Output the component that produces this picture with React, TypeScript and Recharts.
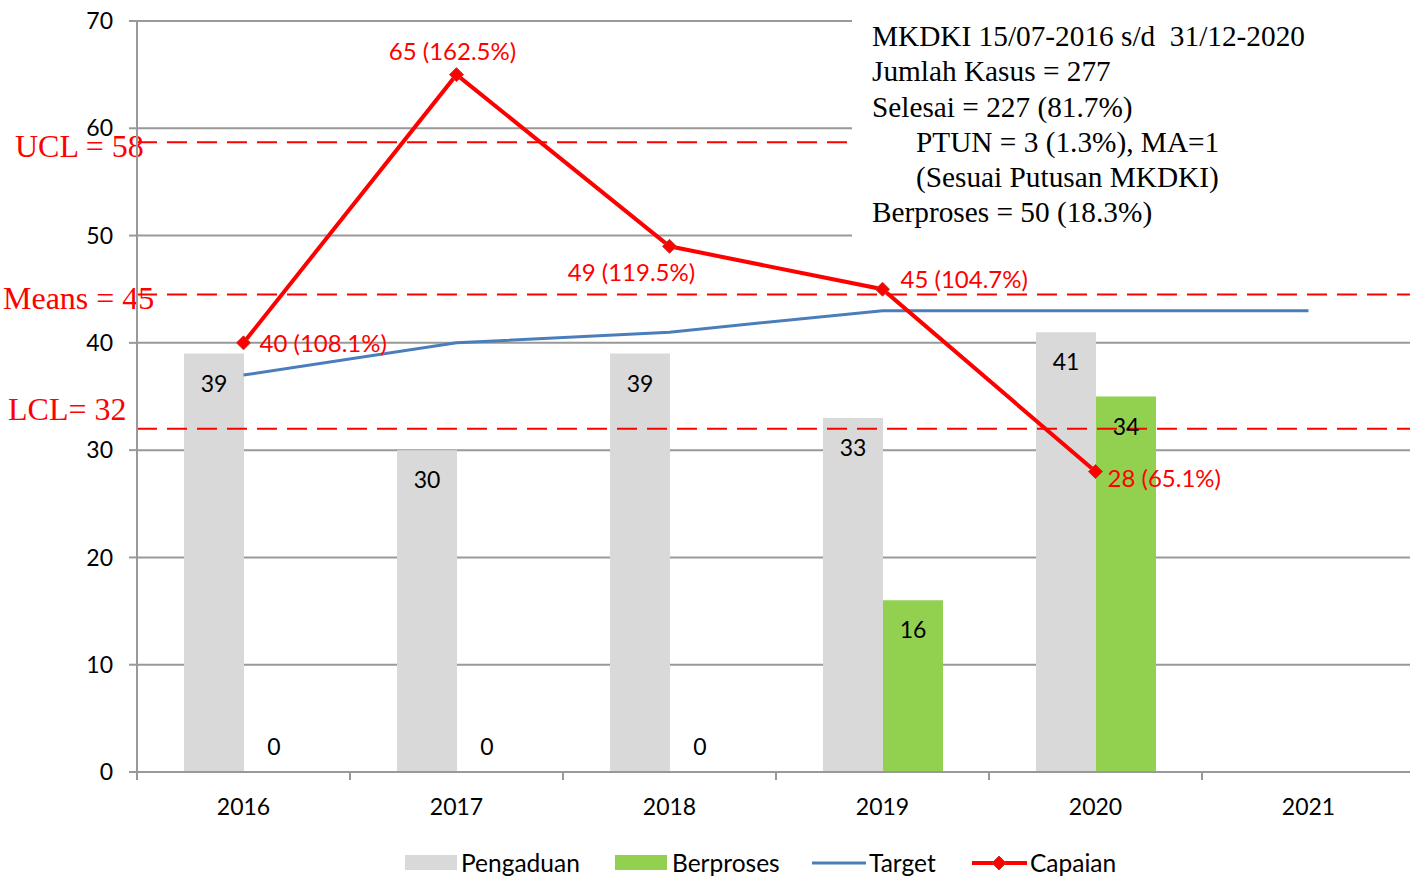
import { Bar, CartesianGrid, ComposedChart, LabelList, Legend, Line, ReferenceLine, XAxis, YAxis } from 'recharts'

const years = ['2016', '2017', '2018', '2019', '2020', '2021']
const pengaduan = [39, 30, 39, 33, 41, null]
const berproses = [0, 0, 0, 16, 35, null]
const berprosesLabels = ['0', '0', '0', '16', '34', '']
const target = [37, 40, 41, 43, 43, 43]
const capaian = [40, 65, 49, 45, 28, null]
const capaianPercent = ['108.1%', '162.5%', '119.5%', '104.7%', '65.1%', '']
const yTicks = [0, 10, 20, 30, 40, 50, 60, 70]
const controlValues = [58.7, 44.5, 32]
const controlLabels = ['UCL = 58', 'Means = 45', 'LCL= 32']
const summaryLines = [
  'MKDKI 15/07-2016 s/d  31/12-2020',
  'Jumlah Kasus = 277',
  'Selesai = 227 (81.7%)',
  'PTUN = 3 (1.3%), MA=1',
  '(Sesuai Putusan MKDKI)',
  'Berproses = 50 (18.3%)',
]
const summaryIndent = [false, false, false, true, true, false]

const data = years.map((year, i) => ({
  year,
  pengaduan: pengaduan[i],
  berproses: berproses[i],
  berprosesLabel: berprosesLabels[i],
  target: target[i],
  capaian: capaian[i],
  capaianLabel: capaian[i] == null ? '' : `${capaian[i]} (${capaianPercent[i]})`,
}))

const FONT = 'Lato, "Open Sans", sans-serif'
const SERIF = '"Liberation Serif", "Times New Roman", serif'
const GRID = '#999999'
const GRAY = '#D9D9D9'
const GREEN = '#92D050'
const BLUE = '#4A7EBB'
const RED = '#FF0000'

// where each capaian label sits relative to its point: dx, dy, anchor
const capaianLabelPos: [number, number, 'start' | 'middle'][] = [
  [16, 0, 'start'],
  [-4, -24, 'middle'],
  [-38, 25, 'middle'],
  [18, -11, 'start'],
  [12, 6, 'start'],
]
// start x and vertical shift of the control line captions
const controlLabelPos = [
  [15, 4],
  [3, 3],
  [8, -20],
]

const XTick = (props: any) => {
  const { x, y, payload, index, visibleTicksCount } = props
  const half = payload?.offset || 106
  return (
    <g>
      <line x1={x - half} x2={x - half} y1={y - 8} y2={y} stroke={GRID} strokeWidth={2} />
      {index === (visibleTicksCount ?? years.length) - 1 && (
        <line x1={x + half} x2={x + half} y1={y - 8} y2={y} stroke={GRID} strokeWidth={2} />
      )}
      <text x={x} y={y + 26} textAnchor="middle" dominantBaseline="central" fontFamily={FONT} fontSize={23} fill="#000">
        {payload.value}
      </text>
    </g>
  )
}

const BarValue = (props: any) => {
  const { x, y, width, value } = props
  if (value == null || value === '' || String(value) === '0') return null
  return (
    <text x={x + width / 2} y={y + 29} textAnchor="middle" dominantBaseline="central" fontFamily={FONT} fontSize={23} fill="#000">
      {value}
    </text>
  )
}

// zero-height Berproses bars get no label of their own, so draw it beside the Pengaduan bar
const ZeroBerprosesValue = (props: any) => {
  const { x, y, width, height, value } = props
  if (String(value) !== '0') return null
  return (
    <text
      x={x + width * 1.5}
      y={y + height - 26}
      textAnchor="middle"
      dominantBaseline="central"
      fontFamily={FONT}
      fontSize={23}
      fill="#000"
    >
      {value}
    </text>
  )
}

const CapaianValue = (props: any) => {
  const { x, y, value, index } = props
  if (value == null || value === '') return null
  const [dx, dy, anchor] = capaianLabelPos[index] || [12, 0, 'start']
  return (
    <text x={x + dx} y={y + dy} textAnchor={anchor} dominantBaseline="central" fontFamily={FONT} fontSize={24} fill={RED}>
      {value}
    </text>
  )
}

const Diamond = (props: any) => {
  const { cx, cy, index } = props
  if (cx == null || cy == null) return <g key={index} />
  const s = 7
  return (
    <polygon
      key={index}
      points={`${cx},${cy - s} ${cx + s},${cy} ${cx},${cy + s} ${cx - s},${cy}`}
      fill={RED}
      stroke="#C0392B"
      strokeWidth={1}
    />
  )
}

const renderLegend = () => (
  <div
    style={{
      display: 'flex',
      alignItems: 'center',
      height: 35,
      paddingTop: 6,
      paddingLeft: 405,
      fontFamily: FONT,
      fontSize: 24.5,
      color: '#000',
      boxSizing: 'border-box',
      whiteSpace: 'nowrap',
    }}
  >
    <span style={{ width: 52, height: 15, background: GRAY, marginRight: 4, flex: 'none' }} />
    <span style={{ width: 154, flex: 'none' }}>Pengaduan</span>
    <span style={{ width: 52, height: 15, background: GREEN, marginRight: 5, flex: 'none' }} />
    <span style={{ width: 140, flex: 'none' }}>Berproses</span>
    <svg width={54} height={16} style={{ marginRight: 3, flex: 'none' }}>
      <line x1={0} x2={54} y1={8} y2={8} stroke={BLUE} strokeWidth={3} />
    </svg>
    <span style={{ width: 103, flex: 'none' }}>Target</span>
    <svg width={55} height={16} style={{ marginRight: 3, flex: 'none' }}>
      <line x1={0} x2={55} y1={8} y2={8} stroke={RED} strokeWidth={4} />
      <polygon points="27,1 34,8 27,15 20,8" fill={RED} stroke="#C0392B" />
    </svg>
    <span>Capaian</span>
  </div>
)

export default function App() {
  return (
    <div style={{ position: 'fixed', left: 0, top: 0, width: 1410, height: 877, background: '#fff', overflow: 'hidden' }}>
      <ComposedChart
        width={1416}
        height={877}
        data={data}
        margin={{ top: 21, right: 1, left: 0, bottom: 0 }}
        barGap={0}
        barCategoryGap={46}
      >
        <CartesianGrid vertical={false} stroke={GRID} strokeWidth={2} />
        <XAxis
          dataKey="year"
          height={70}
          axisLine={{ stroke: GRID, strokeWidth: 2 }}
          tickLine={false}
          tick={<XTick />}
          interval={0}
        />
        <YAxis
          width={137}
          domain={[0, 70]}
          ticks={yTicks}
          interval={0}
          axisLine={{ stroke: GRID, strokeWidth: 2 }}
          tickLine={{ stroke: GRID, strokeWidth: 2 }}
          tickSize={8}
          tickMargin={16}
          tick={{ fontFamily: FONT, fontSize: 23, fill: '#000' }}
        />
        <Legend verticalAlign="bottom" height={35} content={renderLegend} />
        <Bar dataKey="pengaduan" name="Pengaduan" fill={GRAY} barSize={60} isAnimationActive={false}>
          <LabelList dataKey="pengaduan" content={<BarValue />} />
          <LabelList dataKey="berprosesLabel" content={<ZeroBerprosesValue />} />
        </Bar>
        <Bar dataKey="berproses" name="Berproses" fill={GREEN} barSize={60} isAnimationActive={false}>
          <LabelList dataKey="berprosesLabel" content={<BarValue />} />
        </Bar>
        {controlValues.map((v, i) => (
          <ReferenceLine
            key={controlLabels[i]}
            y={v}
            stroke={RED}
            strokeWidth={2}
            strokeDasharray="20 10"
            label={(p: any) => (
              <text
                x={controlLabelPos[i][0]}
                y={(p.viewBox?.y ?? 0) + controlLabelPos[i][1]}
                dominantBaseline="central"
                fontFamily={SERIF}
                fontSize={32}
                fill={RED}
              >
                {controlLabels[i]}
              </text>
            )}
          />
        ))}
        <Line dataKey="target" name="Target" stroke={BLUE} strokeWidth={3} dot={false} isAnimationActive={false} />
        <Line
          dataKey="capaian"
          name="Capaian"
          stroke={RED}
          strokeWidth={4}
          dot={<Diamond />}
          activeDot={false}
          isAnimationActive={false}
        >
          <LabelList dataKey="capaianLabel" content={<CapaianValue />} />
        </Line>
      </ComposedChart>
      <div
        style={{
          position: 'absolute',
          left: 852,
          top: 0,
          width: 558,
          height: 239,
          background: '#fff',
          boxSizing: 'border-box',
          paddingTop: 19,
          paddingLeft: 20,
          fontFamily: SERIF,
          fontSize: 29.3,
          lineHeight: '35.3px',
          color: '#000',
          whiteSpace: 'pre',
        }}
      >
        {summaryLines.map((line, i) => (
          <div key={line} style={{ paddingLeft: summaryIndent[i] ? 44 : 0 }}>
            {line}
          </div>
        ))}
      </div>
    </div>
  )
}
